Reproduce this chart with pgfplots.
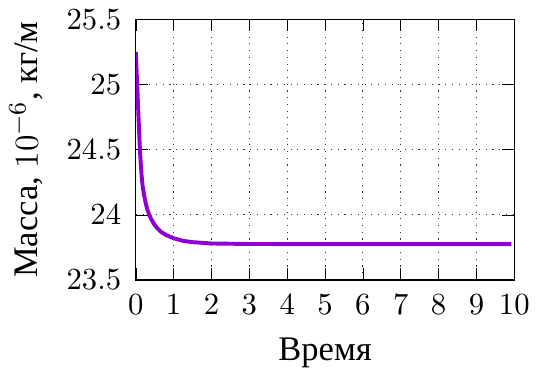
\documentclass[border=0pt]{standalone}
\usepackage[no-math]{fontspec}
\setmainfont{Liberation Serif}
\usepackage{pgfplots}
\pgfplotsset{compat=1.18}
\definecolor{linecol}{RGB}{145,0,210}
\begin{document}
\begin{tikzpicture}
\begin{axis}[
  scale only axis,
  width=135pt, height=93pt,
  xmin=0, xmax=10, ymin=23.5, ymax=25.5,
  xtick={0,1,...,10},
  ytick={23.5,24,24.5,25,25.5},
  yticklabels={$23.5$,$24$,$24.5$,$25$,$25.5$},
  tick label style={font=\fontsize{11}{13}\selectfont},
  yticklabel style={xshift=-1.7pt},
  xticklabel style={yshift=-1.7pt},
  grid=major,
  major grid style={dotted, black!80, line width=0.4pt},
  tick style={black},
  label style={font=\fontsize{12.3}{14}\selectfont},
  xlabel={Время},
  ylabel={Масса, $10^{-6}$, кг/м},
  ylabel style={yshift=1.5pt},
  xlabel style={yshift=-1.5pt},
]
\addplot[linecol, line width=1.4pt] coordinates {
(0,25.25) (0.02,25.11) (0.04,24.97) (0.06,24.83) (0.08,24.69) (0.10,24.55)
(0.12,24.44) (0.15,24.31) (0.18,24.22) (0.22,24.15) (0.26,24.09) (0.30,24.045)
(0.35,24.005) (0.40,23.97) (0.48,23.93) (0.56,23.9) (0.66,23.87) (0.8,23.845)
(1.0,23.82) (1.25,23.80) (1.5,23.79) (2.0,23.78) (3.0,23.776) (5,23.775) (9.92,23.775)
};
\end{axis}
\end{tikzpicture}
\end{document}
